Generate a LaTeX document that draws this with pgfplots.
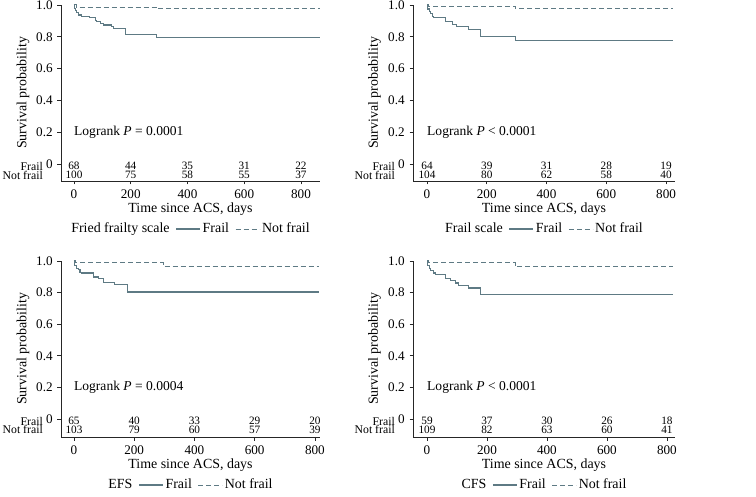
\documentclass[border=0pt]{standalone}
\usepackage{fontspec}
\setmainfont{Liberation Serif}
\usepackage{pgfplots}
\pgfplotsset{compat=1.18}
\definecolor{kmcol}{RGB}{94,122,132}
\newcommand{\rk}[3]{\node[font=\fontsize{11.3}{12}\selectfont, inner sep=0pt] at (axis cs:#1,#2) {#3};}
\tikzset{
  lr/.style={anchor=west, inner sep=0pt, font=\fontsize{13.6}{15}\selectfont},
  rl/.style={anchor=east, inner sep=0pt, font=\fontsize{11.8}{12}\selectfont},
}
\begin{document}
\fontsize{14}{16.8}\selectfont
\begin{tikzpicture}
\useasboundingbox (0bp,0bp) rectangle (756bp,497bp);
\pgfplotsset{
  km/.style={scale only axis, height=176bp,
    axis x line*=bottom, axis y line*=left, clip=false,
    axis line style={black!85, line width=0.7bp},
    xtick={0,200,400,600,800},
    ytick={0,0.2,0.4,0.6,0.8,1}, yticklabels={0,0.2,0.4,0.6,0.8,1.0},
    /pgf/number format/assume math mode=true,
    tick align=outside, major tick length=3.5bp,
    tick style={black!85, line width=0.7bp},
    ymax=1,
    ticklabel style={font=\fontsize{13.2}{15}\selectfont},
    xlabel={Time since ACS, days}, ylabel={Survival probability},
    label style={font=\fontsize{14}{16}\selectfont},
    xlabel style={at={(axis description cs:0.5,-0.159)}, anchor=center},
    ylabel style={at={(axis description cs:-0.147,0.5)}, anchor=center},
    legend style={draw=none, fill=none, at={(0.5,-0.273)}, anchor=center,
      font=\fontsize{14}{16}\selectfont, legend columns=-1,
      /tikz/every even column/.append style={column sep=4bp}},
    legend image code/.code={\draw[##1] (0bp,0bp) -- (24bp,0bp);},
  },
  fr/.style={kmcol, line width=1.1bp, const plot},
  nf/.style={kmcol, line width=1.0bp, const plot, dash pattern=on 5bp off 3bp},
}
% Panel 1
\begin{axis}[km, at={(61bp,316bp)}, anchor=south west, width=259bp,
  xmin=-45.8, xmax=867, ymin=-0.107]
\addlegendimage{empty legend}\addlegendentry{Fried frailty scale}
\addplot[fr] coordinates {(0,1) (2,0.98) (5,0.965) (10,0.95) (15,0.937) (25,0.93) (56,0.92) (75,0.905) (80,0.895) (92,0.884) (103,0.874) (133,0.867) (139,0.853) (180,0.815) (292,0.793) (867,0.793)};
\addlegendentry{Frail}
\addplot[nf] coordinates {(0,1) (8,0.985) (295,0.975) (867,0.975)};
\addlegendentry{Not frail}
\node[lr] at (axis cs:0,0.2) {Logrank \textit{P} = 0.0001};
\rk{0}{-0.013}{68}\rk{200}{-0.013}{44}\rk{400}{-0.013}{35}\rk{600}{-0.013}{31}\rk{800}{-0.013}{22}
\rk{0}{-0.069}{100}\rk{200}{-0.069}{75}\rk{400}{-0.069}{58}\rk{600}{-0.069}{55}\rk{800}{-0.069}{37}
\node[rl] at ([xshift=-18bp]axis cs:-45.8,-0.013) {Frail};
\node[rl] at ([xshift=-18bp]axis cs:-45.8,-0.069) {Not frail};
\end{axis}
% Panel 2
\begin{axis}[km, at={(413bp,316bp)}, anchor=south west, width=262bp,
  xmin=-46.9, xmax=830, ymin=-0.107]
\addlegendimage{empty legend}\addlegendentry{Frail scale\hspace{12bp}}
\addplot[fr] coordinates {(0,1) (3,0.975) (7,0.96) (11,0.947) (17,0.93) (22,0.922) (61,0.895) (84,0.88) (100,0.863) (140,0.846) (179,0.80) (296,0.777) (823,0.777)};
\addlegendentry{Frail}
\addplot[nf] coordinates {(0,1) (6,0.99) (296,0.975) (823,0.975)};
\addlegendentry{Not frail}
\node[lr] at (axis cs:0,0.2) {Logrank \textit{P} \textless{} 0.0001};
\rk{0}{-0.013}{64}\rk{200}{-0.013}{39}\rk{400}{-0.013}{31}\rk{600}{-0.013}{28}\rk{800}{-0.013}{19}
\rk{0}{-0.069}{104}\rk{200}{-0.069}{80}\rk{400}{-0.069}{62}\rk{600}{-0.069}{58}\rk{800}{-0.069}{40}
\node[rl] at ([xshift=-18bp]axis cs:-46.9,-0.013) {Frail};
\node[rl] at ([xshift=-18bp]axis cs:-46.9,-0.069) {Not frail};
\end{axis}
% Panel 3
\begin{axis}[km, at={(61bp,60bp)}, anchor=south west, width=259bp,
  xmin=-43, xmax=817, ymin=-0.114]
\addlegendimage{empty legend}\addlegendentry{EFS}
\addplot[fr] coordinates {(0,1) (3,0.97) (8,0.955) (14,0.945) (20,0.93) (25,0.924) (64,0.899) (81,0.888) (97,0.863) (136,0.85) (178,0.804) (815,0.804)};
\addlegendentry{Frail}
\addplot[nf] coordinates {(0,1) (5,0.99) (297,0.966) (815,0.966)};
\addlegendentry{Not frail}
\node[lr] at (axis cs:0,0.2) {Logrank \textit{P} = 0.0004};
\rk{0}{-0.013}{65}\rk{200}{-0.013}{40}\rk{400}{-0.013}{33}\rk{600}{-0.013}{29}\rk{800}{-0.013}{20}
\rk{0}{-0.069}{103}\rk{200}{-0.069}{79}\rk{400}{-0.069}{60}\rk{600}{-0.069}{57}\rk{800}{-0.069}{39}
\node[rl] at ([xshift=-18bp]axis cs:-43,-0.013) {Frail};
\node[rl] at ([xshift=-18bp]axis cs:-43,-0.069) {Not frail};
\end{axis}
% Panel 4
\begin{axis}[km, at={(413bp,60bp)}, anchor=south west, width=262bp,
  xmin=-46.7, xmax=827, ymin=-0.114]
\addlegendimage{empty legend}\addlegendentry{CFS\hspace{6bp}}
\addplot[fr] coordinates {(0,1) (3,0.97) (7,0.955) (11,0.941) (22,0.924) (28,0.916) (61,0.888) (78,0.878) (94,0.861) (105,0.846) (139,0.829) (177,0.787) (820,0.787)};
\addlegendentry{Frail}
\addplot[nf] coordinates {(0,1) (5,0.99) (294,0.965) (820,0.965)};
\addlegendentry{Not frail}
\node[lr] at (axis cs:0,0.2) {Logrank \textit{P} \textless{} 0.0001};
\rk{0}{-0.013}{59}\rk{200}{-0.013}{37}\rk{400}{-0.013}{30}\rk{600}{-0.013}{26}\rk{800}{-0.013}{18}
\rk{0}{-0.069}{109}\rk{200}{-0.069}{82}\rk{400}{-0.069}{63}\rk{600}{-0.069}{60}\rk{800}{-0.069}{41}
\node[rl] at ([xshift=-18bp]axis cs:-46.7,-0.013) {Frail};
\node[rl] at ([xshift=-18bp]axis cs:-46.7,-0.069) {Not frail};
\end{axis}
\end{tikzpicture}
\end{document}
